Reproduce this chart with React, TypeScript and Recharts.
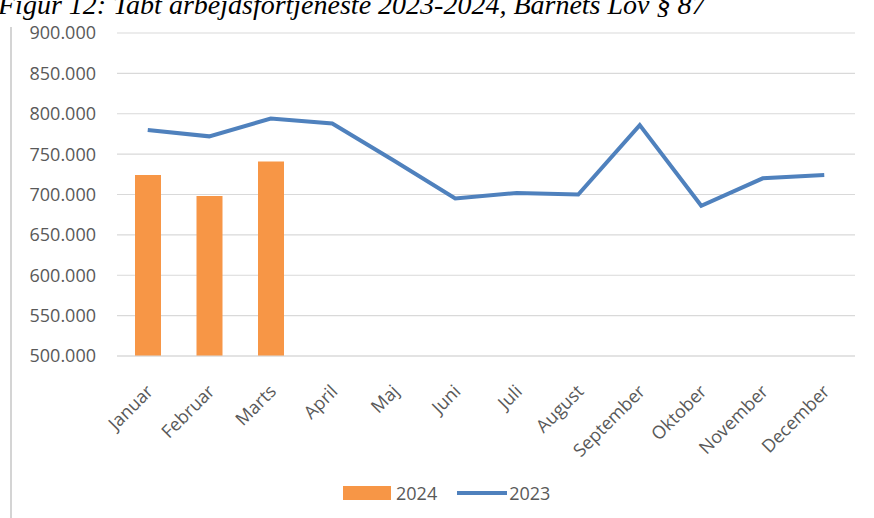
import React from "react";
import {
  ComposedChart,
  Bar,
  Line,
  XAxis,
  YAxis,
  CartesianGrid,
} from "recharts";

const months = [
  "Januar",
  "Februar",
  "Marts",
  "April",
  "Maj",
  "Juni",
  "Juli",
  "August",
  "September",
  "Oktober",
  "November",
  "December",
];

const values2024: (number | null)[] = [724000, 698000, 741000, null, null, null, null, null, null, null, null, null];
const values2023: number[] = [780000, 772000, 794000, 788000, 742000, 695000, 702000, 700000, 786000, 686000, 720000, 724000];

const yTicks = [500000, 550000, 600000, 650000, 700000, 750000, 800000, 850000, 900000];

const seriesNames = ["2024", "2023"];
const seriesColors = ["#F79646", "#4F81BD"];

const data = months.map((m, i) => ({
  month: m,
  v2024: values2024[i],
  v2023: values2023[i],
}));

const fmt = (v: number) => {
  const s = Math.round(v).toString();
  return s.replace(/\B(?=(\d{3})+(?!\d))/g, ".");
};

const FONT = "'Open Sans', sans-serif";
const TEXT = "#595959";

const XTick = (props: any) => {
  const { x, y, payload } = props;
  return (
    <g transform={`translate(${x + 2},${y + 24})`}>
      <text
        transform="rotate(-45)"
        textAnchor="end"
        dy="0.355em"
        fontSize={18}
        fontFamily={FONT}
        fill={TEXT}
      >
        {payload.value}
      </text>
    </g>
  );
};

export default function App() {
  return (
    <div
      style={{
        position: "absolute",
        left: 0,
        top: 0,
        width: 874,
        height: 518,
        overflow: "hidden",
        background: "#ffffff",
      }}
    >
      <div
        style={{
          position: "absolute",
          left: -2,
          top: -9,
          fontFamily: "'Liberation Serif', serif",
          fontStyle: "italic",
          fontSize: 28,
          lineHeight: "28px",
          whiteSpace: "nowrap",
          color: "#000",
        }}
      >
        Figur 12: Tabt arbejdsfortjeneste 2023-2024, Barnets Lov § 87
      </div>
      <div
        style={{
          position: "absolute",
          left: 10,
          top: 27,
          width: 1.5,
          height: 491,
          background: "#d4d4d4",
        }}
      />
      <ComposedChart
        width={874}
        height={518}
        data={data}
        margin={{ top: 33, right: 19, bottom: 0, left: 0 }}
        style={{ position: "absolute", left: 0, top: 0 }}
      >
        <CartesianGrid vertical={false} stroke="#d9d9d9" strokeWidth={1.2} />
        <XAxis
          dataKey="month"
          interval={0}
          tickLine={false}
          axisLine={{ stroke: "#d9d9d9", strokeWidth: 1.2 }}
          tick={<XTick />}
          height={162}
        />
        <YAxis
          domain={[500000, 900000]}
          ticks={yTicks}
          allowDataOverflow
          width={117}
          tickLine={false}
          axisLine={false}
          tickSize={0}
          tickMargin={21}
          tickFormatter={fmt}
          tick={{ fontSize: 18, fontFamily: FONT, fill: TEXT }}
        />
        <Bar dataKey="v2024" name={seriesNames[0]} fill={seriesColors[0]} barSize={26} isAnimationActive={false} />
        <Line
          dataKey="v2023"
          name={seriesNames[1]}
          stroke={seriesColors[1]}
          strokeWidth={4}
          dot={false}
          type="linear"
          isAnimationActive={false}
        />
      </ComposedChart>
      <div
        style={{
          position: "absolute",
          left: 343,
          top: 481,
          display: "flex",
          alignItems: "center",
          fontFamily: FONT,
          fontSize: 18,
          color: TEXT,
          lineHeight: "24px",
        }}
      >
        <div style={{ width: 48, height: 14, background: seriesColors[0], marginRight: 5 }} />
        <span style={{ marginRight: 20 }}>{seriesNames[0]}</span>
        <div style={{ width: 50, height: 4, background: seriesColors[1], marginRight: 2 }} />
        <span>{seriesNames[1]}</span>
      </div>
    </div>
  );
}
